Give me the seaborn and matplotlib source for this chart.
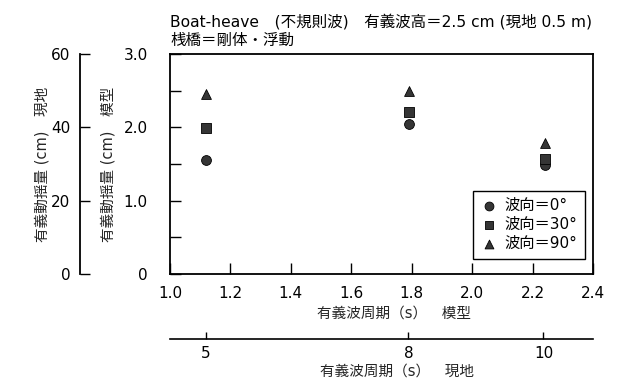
import numpy as np
import pandas as pd
import seaborn as sns
import matplotlib.pyplot as plt

# 模型の有義波周期 (s)
period_model = [1.12, 1.79, 2.24]
# 有義動揺量 (cm, 模型)
heave_0 = [1.55, 2.05, 1.48]
heave_30 = [1.99, 2.21, 1.57]
heave_90 = [2.46, 2.49, 1.79]

direction_labels = ["波向＝0°", "波向＝30°", "波向＝90°"]
markers = ["o", "s", "^"]

x_ticks = [1.0, 1.2, 1.4, 1.6, 1.8, 2.0, 2.2, 2.4]
x_tick_labels = ["1.0", "1.2", "1.4", "1.6", "1.8", "2.0", "2.2", "2.4"]
y_ticks = [0, 1.0, 2.0, 3.0]
y_tick_labels = ["0", "1.0", "2.0", "3.0"]
field_x_ticks = [5, 8, 10]
field_y_ticks = [0, 20, 40, 60]

scale = 20  # 縮尺 1/20

df = pd.DataFrame({
    "period": period_model * 3,
    "heave": heave_0 + heave_30 + heave_90,
    "direction": sum([[d] * 3 for d in direction_labels], []),
})

sns.set_style("ticks", {"axes.edgecolor": "black", "xtick.color": "black",
                        "ytick.color": "black", "text.color": "black"})
plt.rcParams["font.family"] = ["DejaVu Sans", "Noto Sans CJK JP"]

fig = plt.figure(figsize=(6.18, 3.91), dpi=100)
ax = fig.add_axes([170 / 618, 1 - 274 / 391, 423 / 618, 220 / 391])

for lab, m in zip(direction_labels, markers):
    sub = df[df["direction"] == lab]
    sns.scatterplot(data=sub, x="period", y="heave", marker=m, s=50,
                    color="#353535", edgecolor="black", linewidth=0.6,
                    label=lab, ax=ax)

ax.set_xlim(1.0, 2.4)
ax.set_ylim(0, 3.0)
ax.set_xticks(x_ticks)
ax.set_xticklabels(x_tick_labels)
ax.set_yticks(y_ticks)
ax.set_yticklabels(y_tick_labels)
ax.set_yticks([0.5, 1.5, 2.5], minor=True)
for s in ax.spines.values():
    s.set_linewidth(1.3)
    s.set_visible(True)
ax.tick_params(which="both", direction="in", length=8, width=1, labelsize=11)
ax.tick_params(axis="x", pad=9)
ax.tick_params(axis="y", pad=16)

ax.set_xlabel("有義波周期（s）　模型", fontsize=10.5, labelpad=3)
ax.xaxis.label.set_x(0.53)
ax.set_ylabel("有義動揺量 (cm)　模型", fontsize=10.5, labelpad=6)

# 現地スケールの軸
secx = ax.secondary_xaxis(-0.295, functions=(lambda x: x * np.sqrt(scale),
                                             lambda x: x / np.sqrt(scale)))
secx.set_xticks(field_x_ticks)
secx.set_xticklabels([str(v) for v in field_x_ticks])
secx.tick_params(direction="in", length=5, width=1, labelsize=11, pad=5)
secx.spines["bottom"].set_linewidth(1.2)
secx.set_xlabel("有義波周期（s）　現地", fontsize=10.5, labelpad=2)
secx.xaxis.label.set_x(0.537)

secy = ax.secondary_yaxis(-0.213, functions=(lambda y: y * scale,
                                             lambda y: y / scale))
secy.set_yticks(field_y_ticks)
secy.set_yticklabels([str(v) for v in field_y_ticks])
secy.tick_params(direction="in", length=7, width=1, labelsize=11, pad=7)
secy.spines["left"].set_linewidth(1.3)
secy.set_ylabel("有義動揺量 (cm)　現地", fontsize=10.5, labelpad=1)

leg = ax.legend(loc="lower right", bbox_to_anchor=(0.98, 0.07), fontsize=11,
                frameon=True, fancybox=False, framealpha=1, edgecolor="black",
                handletextpad=0.5, borderpad=0.5, labelspacing=0.25,
                handlelength=1.0, borderaxespad=0, markerscale=0.9)
leg.get_frame().set_linewidth(1.0)

fig.text(170 / 618, 1 - 22 / 391,
         "Boat-heave　(不規則波)　有義波高＝2.5 cm (現地 0.5 m)",
         fontsize=11.2, ha="left", va="center")
fig.text(170 / 618, 1 - 40 / 391, "桟橋＝剛体・浮動",
         fontsize=11.2, ha="left", va="center")

fig.savefig("out.png", dpi=100)
